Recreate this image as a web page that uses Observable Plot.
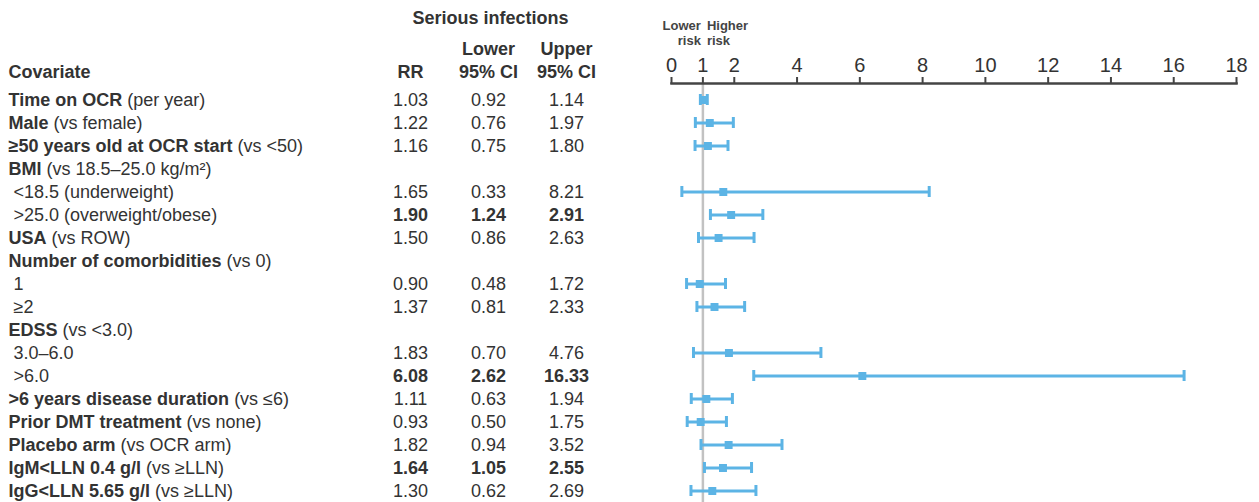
<!DOCTYPE html>
<html>
<head>
<meta charset="utf-8">
<script src="https://cdn.jsdelivr.net/npm/d3@7"></script>
<script src="https://cdn.jsdelivr.net/npm/@observablehq/plot@0.6"></script>
<style>
  html, body { margin: 0; padding: 0; background: #fff; }
  #chart { position: relative; width: 1259px; height: 502px; display: flex; }
  #chart svg { display: block; overflow: visible; }
</style>
</head>
<body>
<div id="chart"></div>
<script>
// ---------- data ----------
const boldLabels = ["Time on OCR", "Male", "≥50 years old at OCR start", "BMI", "", "", "USA",
  "Number of comorbidities", "", "", "EDSS", "", "", ">6 years disease duration",
  "Prior DMT treatment", "Placebo arm", "IgM<LLN 0.4 g/l", "IgG<LLN 5.65 g/l"];
const plainLabels = [" (per year)", " (vs female)", " (vs <50)", " (vs 18.5–25.0 kg/m²)",
  " <18.5 (underweight)", " >25.0 (overweight/obese)", " (vs ROW)", " (vs 0)", " 1", " ≥2",
  " (vs <3.0)", " 3.0–6.0", " >6.0", " (vs ≤6)", " (vs none)", " (vs OCR arm)", " (vs ≥LLN)", " (vs ≥LLN)"];
const rr    = [1.03, 1.22, 1.16, null, 1.65, 1.90, 1.50, null, 0.90, 1.37, null, 1.83, 6.08, 1.11, 0.93, 1.82, 1.64, 1.30];
const lower = [0.92, 0.76, 0.75, null, 0.33, 1.24, 0.86, null, 0.48, 0.81, null, 0.70, 2.62, 0.63, 0.50, 0.94, 1.05, 0.62];
const upper = [1.14, 1.97, 1.80, null, 8.21, 2.91, 2.63, null, 1.72, 2.33, null, 4.76, 16.33, 1.94, 1.75, 3.52, 2.55, 2.69];
const significant = [false, false, false, false, false, true, false, false, false, false, false, false, true, false, false, false, true, false];
const columnKeys = ["rr", "lo", "hi"];
const columnHead1 = ["", "Lower", "Upper"];
const columnHead2 = ["RR", "95% CI", "95% CI"];
const tableTitle = "Serious infections";
const covariateHead = "Covariate";
const xTicks = [0, 1, 2, 4, 6, 8, 10, 12, 14, 16, 18];
const nullValue = 1;
const riskLabels = [
  {x: nullValue, text: "Lower\nrisk", side: "end"},
  {x: nullValue, text: "Higher\nrisk", side: "start"}
];

// ---------- derived tables ----------
const idx = d3.range(boldLabels.length);
const rows = idx.map(i => ({i, bold: boldLabels[i], plain: plainLabels[i],
  rr: rr[i], lo: lower[i], hi: upper[i], sig: significant[i]}));
const valued = rows.filter(d => d.rr != null);
const cells = valued.flatMap(d => columnKeys.map(col => ({i: d.i, col, v: d[col], sig: d.sig})));
const heads = columnKeys.map((col, k) => ({col, h1: columnHead1[k], h2: columnHead2[k]}));

// ---------- style ----------
const font = "'Liberation Sans', Arial, Helvetica, sans-serif";
const ink = "#333333";
const blue = "#5cb4e5";
const fs = 18;
const yTop = 85.35, yBottom = 504.75;

const table = Plot.plot({
  width: 660, height: 502,
  marginTop: 0, marginBottom: 0, marginLeft: 8, marginRight: 0,
  style: {fontFamily: font, fontSize: fs + "px", color: ink, background: "transparent"},
  x: {type: "point", domain: columnKeys, range: [409, 566], padding: 0, align: 0.5, axis: null},
  y: {type: "band", domain: idx, range: [yTop, yBottom], padding: 0, axis: null},
  marks: [
    Plot.text([tableTitle], {x: () => "lo", text: d => d, frameAnchor: "top", dy: 18, dx: 2,
      lineAnchor: "middle", fontWeight: "bold", fontSize: fs, fill: ink}),
    Plot.text(heads, {x: "col", text: "h1", frameAnchor: "top", dy: 49,
      lineAnchor: "middle", fontWeight: "bold", fontSize: fs, fill: ink}),
    Plot.text(heads, {x: "col", text: "h2", frameAnchor: "top", dy: 72,
      lineAnchor: "middle", fontWeight: "bold", fontSize: fs, fill: ink}),
    Plot.text([covariateHead], {text: d => d, frameAnchor: "top-left", dy: 72,
      lineAnchor: "middle", textAnchor: "start", fontWeight: "bold", fontSize: fs, fill: ink}),
    Plot.text(rows, {y: "i", text: d => d.bold + d.plain, frameAnchor: "left",
      textAnchor: "start", fontSize: fs, fill: ink}),
    Plot.text(cells, {filter: d => !d.sig, x: "col", y: "i", text: d => d.v.toFixed(2),
      fontSize: fs, fill: ink}),
    Plot.text(cells, {filter: d => d.sig, x: "col", y: "i", text: d => d.v.toFixed(2),
      fontSize: fs, fontWeight: "bold", fill: ink})
  ]
});

// mixed bold / regular covariate labels
const byLabel = new Map(rows.map(d => [d.bold + d.plain, d]));
d3.select(table).selectAll("text").each(function() {
  const d = byLabel.get(this.textContent);
  if (!d) return;
  const t = d3.select(this).text(null).attr("xml:space", "preserve").style("white-space", "pre");
  if (d.bold) t.append("tspan").attr("font-weight", "bold").text(d.bold);
  t.append("tspan").text(d.plain);
});

const forest = Plot.plot({
  width: 599, height: 502,
  marginTop: 83, marginBottom: 0, marginLeft: 11, marginRight: 23,
  style: {fontFamily: font, fontSize: "20px", color: ink, background: "transparent"},
  x: {domain: [0, 18], axis: null},
  y: {type: "band", domain: idx, range: [yTop, yBottom], padding: 0, axis: null},
  marks: [
    Plot.ruleX([nullValue], {stroke: "#c2c2c2", strokeWidth: 2.5}),
    Plot.axisX({anchor: "top", ticks: xTicks, tickFormat: d => String(d), tickSize: 7,
      tickPadding: 5, fontSize: 20, stroke: "#444", strokeWidth: 2, fill: "#333", strokeOpacity: 1}),
    Plot.frame({anchor: "top", stroke: "#444", strokeWidth: 2.5}),
    Plot.text(riskLabels, {filter: d => d.side === "end", x: "x", text: "text", frameAnchor: "top",
      dy: -51, dx: -2, textAnchor: "end", lineAnchor: "middle", lineHeight: 1.15,
      fontSize: 13, fontWeight: "bold", fill: "#444"}),
    Plot.text(riskLabels, {filter: d => d.side === "start", x: "x", text: "text", frameAnchor: "top",
      dy: -51, dx: 4, textAnchor: "start", lineAnchor: "middle", lineHeight: 1.15,
      fontSize: 13, fontWeight: "bold", fill: "#444"}),
    Plot.ruleY(valued, {y: "i", x1: "lo", x2: "hi", stroke: blue, strokeWidth: 3}),
    Plot.tickX(valued, {x: "lo", y: "i", stroke: blue, strokeWidth: 3, insetTop: 6, insetBottom: 6}),
    Plot.tickX(valued, {x: "hi", y: "i", stroke: blue, strokeWidth: 3, insetTop: 6, insetBottom: 6}),
    Plot.dot(valued, {x: "rr", y: "i", symbol: "square", r: 4.5, fill: blue, stroke: null})
  ]
});

document.getElementById("chart").append(table, forest);
</script>
</body>
</html>
